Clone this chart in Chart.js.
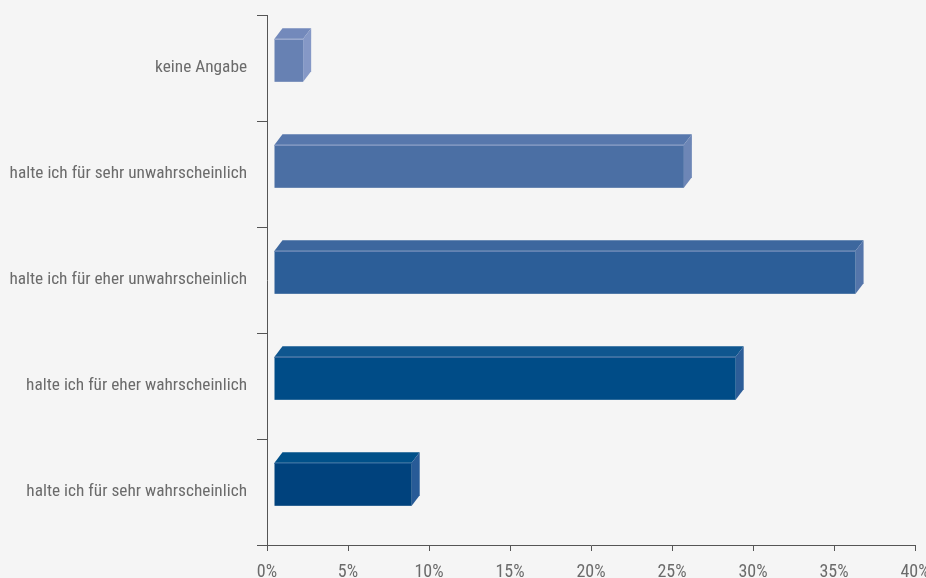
<!DOCTYPE html>
<html>
<head>
<meta charset="utf-8">
<script src="https://cdn.jsdelivr.net/npm/chart.js@4/dist/chart.umd.min.js"></script>
<style>
  html, body { margin: 0; padding: 0; background: #f5f5f5; }
  #wrap { width: 926px; height: 578px; position: relative; }
</style>
</head>
<body>
<div id="wrap"><canvas id="c" width="926" height="578"></canvas></div>
<script>
const categories = [
  "keine Angabe",
  "halte ich für sehr unwahrscheinlich",
  "halte ich für eher unwahrscheinlich",
  "halte ich für eher wahrscheinlich",
  "halte ich für sehr wahrscheinlich"
];
const percentValues = [1.8, 25.3, 35.9, 28.5, 8.5];
const tickValues = [0, 5, 10, 15, 20, 25, 30, 35, 40];

const frontColors = ["#6781b3", "#4b6fa4", "#2c5e98", "#004c87", "#00427d"];
const topColors   = ["#7389bb", "#5777ac", "#3d679e", "#0f568f", "#005089"];
const sideColors  = ["#8598c6", "#6d86b6", "#5475aa", "#2c5d98", "#285b97"];
const edgeColors  = ["#9aa9cf", "#7e94c0", "#6482b3", "#3f6ca0", "#1f5a92"];

const FONT = "'Liberation Sans Narrow', 'Roboto Condensed', 'Arial Narrow', sans-serif";
const DEPTH_X = 8, DEPTH_Y = 10.5, SHIFT_X = 7, SHIFT_Y = -7.7;

const box3d = {
  id: 'box3d',
  beforeDatasetDraw() { return false; },
  afterDatasetsDraw(chart) {
    const ctx = chart.ctx;
    const meta = chart.getDatasetMeta(0);
    meta.data.forEach((el, i) => {
      const p = el.getProps(['x', 'y', 'base', 'height'], true);
      const x0 = p.base + SHIFT_X, x1 = p.x + SHIFT_X;
      const yT = p.y - p.height / 2 + SHIFT_Y, yB = p.y + p.height / 2 + SHIFT_Y;
      ctx.save();
      ctx.fillStyle = topColors[i];
      ctx.beginPath();
      ctx.moveTo(x0, yT); ctx.lineTo(x0 + DEPTH_X, yT - DEPTH_Y);
      ctx.lineTo(x1 + DEPTH_X, yT - DEPTH_Y); ctx.lineTo(x1, yT); ctx.closePath(); ctx.fill();
      ctx.fillStyle = sideColors[i];
      ctx.beginPath();
      ctx.moveTo(x1, yT); ctx.lineTo(x1 + DEPTH_X, yT - DEPTH_Y);
      ctx.lineTo(x1 + DEPTH_X, yB - DEPTH_Y); ctx.lineTo(x1, yB); ctx.closePath(); ctx.fill();
      ctx.fillStyle = frontColors[i];
      ctx.fillRect(x0, yT, x1 - x0, yB - yT);
      ctx.strokeStyle = edgeColors[i];
      ctx.lineWidth = 1;
      ctx.beginPath(); ctx.moveTo(x0, Math.round(yT) + 0.5); ctx.lineTo(x1, Math.round(yT) + 0.5); ctx.stroke();
      ctx.restore();
    });
  }
};

const bgPlugin = {
  id: 'bg',
  beforeDraw(chart) {
    const ctx = chart.ctx;
    ctx.save(); ctx.fillStyle = '#f5f5f5'; ctx.fillRect(0, 0, chart.width, chart.height); ctx.restore();
  }
};

new Chart(document.getElementById('c'), {
  type: 'bar',
  data: {
    labels: categories,
    datasets: [{
      data: percentValues,
      backgroundColor: frontColors,
      categoryPercentage: 1,
      barPercentage: 0.406
    }]
  },
  options: {
    indexAxis: 'y',
    responsive: false,
    animation: false,
    layout: { padding: { top: 15, right: 11, bottom: 0, left: 0 } },
    plugins: { legend: { display: false }, tooltip: { enabled: false } },
    scales: {
      x: {
        min: 0, max: 40,
        afterBuildTicks(scale) { scale.ticks = tickValues.map(v => ({ value: v })); },
        afterFit(scale) { scale.height = 33; scale.paddingLeft = 0; scale.paddingRight = 0; },
        ticks: {
          callback: v => v + '%',
          color: '#6b6b6b',
          font: { family: FONT, size: 18 },
          padding: 11,
          maxRotation: 0
        },
        grid: { drawOnChartArea: false, drawTicks: true, tickLength: 6, color: '#555', lineWidth: 1 },
        border: { display: true, color: '#555', width: 1 }
      },
      y: {
        afterFit(scale) { scale.width = 267; scale.paddingTop = 0; scale.paddingBottom = 0; },
        ticks: {
          color: '#6b6b6b',
          font: { family: FONT, size: 17.3 },
          padding: 10
        },
        grid: { offset: true, drawOnChartArea: false, drawTicks: true, tickLength: 10, color: '#555', lineWidth: 1 },
        border: { display: true, color: '#555', width: 1 }
      }
    }
  },
  plugins: [bgPlugin, box3d]
});
</script>
</body>
</html>
